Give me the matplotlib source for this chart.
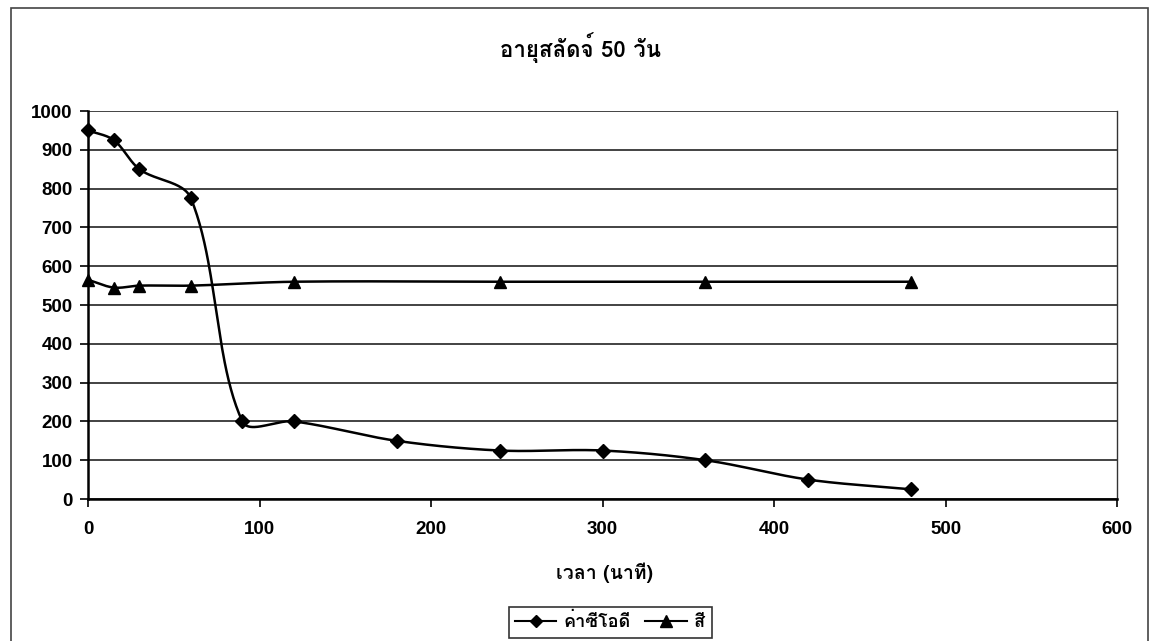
import numpy as np
import matplotlib
matplotlib.use("Agg")
import matplotlib.pyplot as plt
from matplotlib import font_manager, ft2font
from matplotlib.lines import Line2D
from matplotlib.patches import Rectangle

# Data
cod_time = [0, 15, 30, 60, 90, 120, 180, 240, 300, 360, 420, 480]
cod_values = [950, 925, 850, 775, 200, 200, 150, 125, 125, 100, 50, 25]
color_time = [0, 15, 30, 60, 120, 240, 360, 480]
color_values = [565, 545, 550, 550, 560, 560, 560, 560]
x_ticks = [0, 100, 200, 300, 400, 500, 600]
y_ticks = [0, 100, 200, 300, 400, 500, 600, 700, 800, 900, 1000]

title_text = "อายุสลัดจ์ 50 วัน"
xlabel_text = "เวลา (นาที)"
legend_labels = ["ค่าซีโอดี", "สี"]


def find_thai_family():
    best = None
    for fe in font_manager.fontManager.ttflist:
        try:
            cmap = ft2font.FT2Font(fe.fname).get_charmap()
        except Exception:
            continue
        if 0x0E01 in cmap:
            w = fe.weight if isinstance(fe.weight, int) else 400
            if best is None or (w >= 700 and best[1] < 700):
                best = (fe.name, w)
    return best[0] if best else None


thai = find_thai_family()
text_fams = ([thai] if thai else []) + ["Liberation Sans", "DejaVu Sans"]
num_fams = ["Liberation Sans", "DejaVu Sans"]

fig = plt.figure(figsize=(11.49, 6.41), dpi=100)
fig.patch.set_facecolor("white")
ax = fig.add_axes([0.0766, 0.2215, 0.8956, 0.6053])
ax.set_xlim(0, 600)
ax.set_ylim(0, 1000)


def smooth(xs, ys, n=50):
    # Bezier curve through the points, tangents weighted by on-screen segment length
    pts = ax.transData.transform(np.column_stack([xs, ys]).astype(float))
    P = np.vstack([pts[0], pts, pts[-1]])
    t = np.linspace(0, 1, n)[:, None]
    out = []
    for i in range(1, len(P) - 2):
        p_prev, p0, p1, p_next = P[i - 1], P[i], P[i + 1], P[i + 2]
        d_prev = np.hypot(*(p0 - p_prev))
        d = np.hypot(*(p1 - p0))
        d_next = np.hypot(*(p_next - p1))
        c1 = p0 + (p1 - p_prev) * (d / (d_prev + d)) / 3
        c2 = p1 - (p_next - p0) * (d / (d + d_next)) / 3
        b = (1 - t) ** 3 * p0 + 3 * (1 - t) ** 2 * t * c1 + 3 * (1 - t) * t ** 2 * c2 + t ** 3 * p1
        out.append(b)
    out = np.vstack(out)
    data = ax.transData.inverted().transform(out)
    return data[:, 0], data[:, 1]


ax.set_xticks(x_ticks)
ax.set_yticks(y_ticks)
ax.set_xticklabels([str(v) for v in x_ticks], fontfamily=num_fams, fontweight="bold", fontsize=13.5)
ax.set_yticklabels([str(v) for v in y_ticks], fontfamily=num_fams, fontweight="bold", fontsize=13.5)
ax.tick_params(axis="both", direction="out", length=6, width=1.2, colors="black")
ax.tick_params(axis="x", pad=10)
ax.tick_params(axis="y", pad=5)
ax.yaxis.grid(True, color="#222222", linewidth=1.2)
ax.set_axisbelow(True)
for side in ["left", "bottom"]:
    ax.spines[side].set_linewidth(1.8)
ax.spines["right"].set_linewidth(1.0)
ax.spines["right"].set_color("#333333")
ax.spines["top"].set_visible(False)

sx, sy = smooth(cod_time, cod_values)
ax.plot(sx, sy, color="black", linewidth=1.8, zorder=3, clip_on=False)
ax.plot(cod_time, cod_values, linestyle="none", marker="D", markersize=7,
        color="black", zorder=4, clip_on=False)
cx, cy = smooth(color_time, color_values)
ax.plot(cx, cy, color="black", linewidth=1.8, zorder=3, clip_on=False)
ax.plot(color_time, color_values, linestyle="none", marker="^", markersize=9,
        color="black", zorder=4, clip_on=False)

fig.text(0.505, 0.925, title_text, ha="center", va="center", fontsize=16,
         fontweight="bold", fontfamily=text_fams)
fig.text(0.526, 0.106, xlabel_text, ha="center", va="center", fontsize=14,
         fontweight="bold", fontfamily=text_fams)

handles = [
    Line2D([], [], color="black", linewidth=1.5, marker="D", markersize=6),
    Line2D([], [], color="black", linewidth=1.5, marker="^", markersize=8),
]
leg = fig.legend(handles, legend_labels, loc="center", bbox_to_anchor=(0.531, 0.029),
                 ncol=2, frameon=True, fancybox=False, edgecolor="black",
                 handlelength=2.3, handletextpad=0.4, columnspacing=0.8,
                 borderpad=0.35, prop={"family": text_fams, "weight": "bold", "size": 13})
leg.get_frame().set_linewidth(1.2)

# outer chart frame
fig.add_artist(Rectangle((11 / 1149, -0.01), 1137 / 1149, 1 - 8 / 641 + 0.01,
                         transform=fig.transFigure, fill=False,
                         edgecolor="#444444", linewidth=1.2))

fig.savefig("out.png", dpi=100, facecolor="white")
